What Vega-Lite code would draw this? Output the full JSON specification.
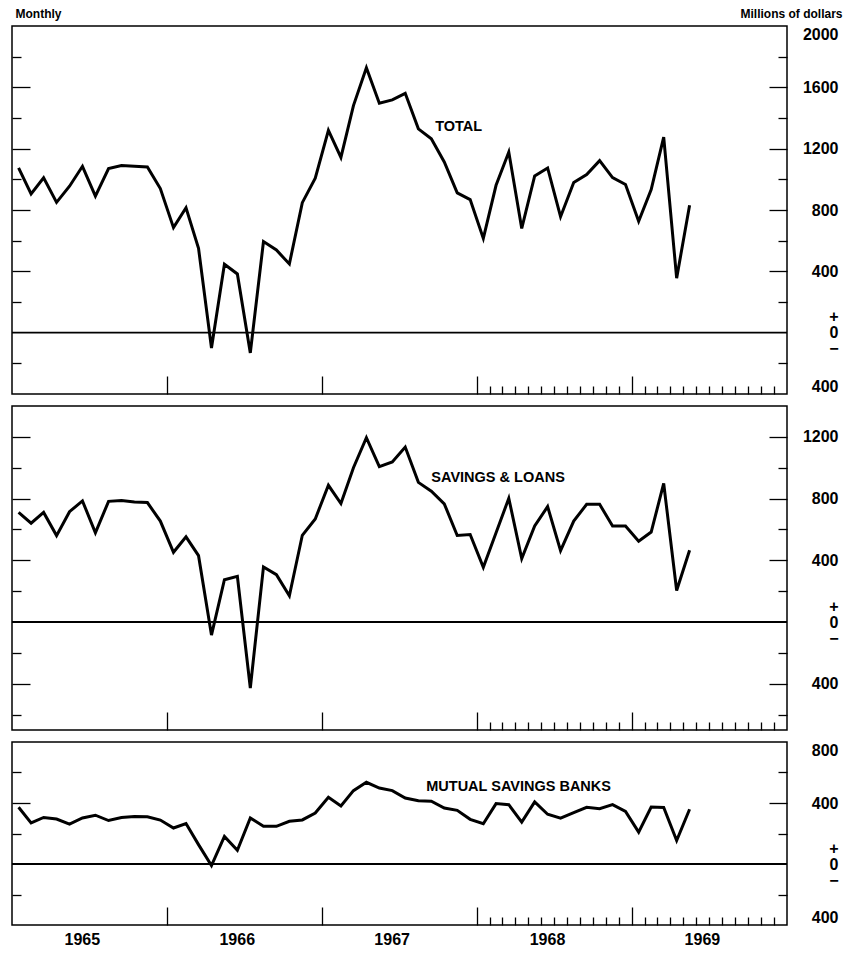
{
  "$schema": "https://vega.github.io/schema/vega-lite/v6.json",
  "background": "white",
  "padding": {"left": 10, "top": 6, "right": 2, "bottom": 4},
  "autosize": {"type": "pad"},
  "config": {
    "view": {"stroke": "black", "strokeWidth": 1.5},
    "font": "Liberation Sans",
    "axis": {"grid": false, "domain": false, "tickColor": "black", "tickWidth": 1.3, "labelColor": "black", "titleColor": "black"}
  },
  "datasets": {
    "flows": [
      {"date": "1965-01", "total": 1075, "sl": 710, "msb": 372},
      {"date": "1965-02", "total": 905, "sl": 640, "msb": 270},
      {"date": "1965-03", "total": 1010, "sl": 710, "msb": 305},
      {"date": "1965-04", "total": 850, "sl": 560, "msb": 295},
      {"date": "1965-05", "total": 955, "sl": 715, "msb": 262},
      {"date": "1965-06", "total": 1085, "sl": 785, "msb": 302},
      {"date": "1965-07", "total": 890, "sl": 578, "msb": 320},
      {"date": "1965-08", "total": 1070, "sl": 782, "msb": 285},
      {"date": "1965-09", "total": 1090, "sl": 787, "msb": 305},
      {"date": "1965-10", "total": 1085, "sl": 778, "msb": 312},
      {"date": "1965-11", "total": 1080, "sl": 774, "msb": 310},
      {"date": "1965-12", "total": 940, "sl": 654, "msb": 288},
      {"date": "1966-01", "total": 685, "sl": 452, "msb": 236},
      {"date": "1966-02", "total": 815, "sl": 552, "msb": 265},
      {"date": "1966-03", "total": 550, "sl": 430, "msb": 127},
      {"date": "1966-04", "total": -100, "sl": -85, "msb": -10},
      {"date": "1966-05", "total": 446, "sl": 274, "msb": 181},
      {"date": "1966-06", "total": 383, "sl": 296, "msb": 90},
      {"date": "1966-07", "total": -132, "sl": -428, "msb": 302},
      {"date": "1966-08", "total": 594, "sl": 357, "msb": 247},
      {"date": "1966-09", "total": 539, "sl": 307, "msb": 247},
      {"date": "1966-10", "total": 448, "sl": 170, "msb": 280},
      {"date": "1966-11", "total": 848, "sl": 562, "msb": 289},
      {"date": "1966-12", "total": 1008, "sl": 668, "msb": 334},
      {"date": "1967-01", "total": 1320, "sl": 886, "msb": 437},
      {"date": "1967-02", "total": 1143, "sl": 768, "msb": 380},
      {"date": "1967-03", "total": 1481, "sl": 1000, "msb": 481},
      {"date": "1967-04", "total": 1728, "sl": 1195, "msb": 536},
      {"date": "1967-05", "total": 1496, "sl": 1007, "msb": 498},
      {"date": "1967-06", "total": 1518, "sl": 1037, "msb": 481},
      {"date": "1967-07", "total": 1561, "sl": 1134, "msb": 433},
      {"date": "1967-08", "total": 1329, "sl": 905, "msb": 415},
      {"date": "1967-09", "total": 1264, "sl": 848, "msb": 412},
      {"date": "1967-10", "total": 1113, "sl": 766, "msb": 367},
      {"date": "1967-11", "total": 912, "sl": 561, "msb": 352},
      {"date": "1967-12", "total": 868, "sl": 567, "msb": 293},
      {"date": "1968-01", "total": 615, "sl": 354, "msb": 264},
      {"date": "1968-02", "total": 961, "sl": 578, "msb": 396},
      {"date": "1968-03", "total": 1178, "sl": 802, "msb": 389},
      {"date": "1968-04", "total": 680, "sl": 411, "msb": 275},
      {"date": "1968-05", "total": 1022, "sl": 622, "msb": 407},
      {"date": "1968-06", "total": 1074, "sl": 748, "msb": 326},
      {"date": "1968-07", "total": 756, "sl": 463, "msb": 301},
      {"date": "1968-08", "total": 979, "sl": 654, "msb": 337},
      {"date": "1968-09", "total": 1031, "sl": 763, "msb": 372},
      {"date": "1968-10", "total": 1122, "sl": 763, "msb": 363},
      {"date": "1968-11", "total": 1011, "sl": 622, "msb": 389},
      {"date": "1968-12", "total": 966, "sl": 622, "msb": 345},
      {"date": "1969-01", "total": 727, "sl": 524, "msb": 209},
      {"date": "1969-02", "total": 933, "sl": 583, "msb": 374},
      {"date": "1969-03", "total": 1275, "sl": 898, "msb": 370},
      {"date": "1969-04", "total": 355, "sl": 204, "msb": 154},
      {"date": "1969-05", "total": 831, "sl": 465, "msb": 359}
    ]
  },
  "spacing": 12,
  "bounds": "flush",
  "vconcat": [
    {
      "width": 775,
      "height": 368,
      "data": {"name": "flows"},
      "resolve": {"axis": {"x": "independent", "y": "independent"}},
      "layer": [
        {
          "mark": {"type": "line", "stroke": "black", "strokeWidth": 3},
          "encoding": {
            "x": {
              "field": "date", "timeUnit": "utcyearmonth", "type": "temporal", "bandPosition": 0.5,
              "scale": {"type": "utc", "domain": [{"year": 1965, "month": 1, "date": 1, "utc": true}, {"year": 1970, "month": 1, "date": 1, "utc": true}]},
              "axis": {
                "orient": "bottom", "labels": false, "title": null,
                "values": [
                  {"year": 1966, "month": 1, "date": 1, "utc": true}, {"year": 1967, "month": 1, "date": 1, "utc": true},
                  {"year": 1968, "month": 1, "date": 1, "utc": true}, {"year": 1968, "month": 2, "date": 1, "utc": true}, {"year": 1968, "month": 3, "date": 1, "utc": true}, {"year": 1968, "month": 4, "date": 1, "utc": true}, {"year": 1968, "month": 5, "date": 1, "utc": true}, {"year": 1968, "month": 6, "date": 1, "utc": true}, {"year": 1968, "month": 7, "date": 1, "utc": true}, {"year": 1968, "month": 8, "date": 1, "utc": true}, {"year": 1968, "month": 9, "date": 1, "utc": true}, {"year": 1968, "month": 10, "date": 1, "utc": true}, {"year": 1968, "month": 11, "date": 1, "utc": true}, {"year": 1968, "month": 12, "date": 1, "utc": true},
                  {"year": 1969, "month": 1, "date": 1, "utc": true}, {"year": 1969, "month": 2, "date": 1, "utc": true}, {"year": 1969, "month": 3, "date": 1, "utc": true}, {"year": 1969, "month": 4, "date": 1, "utc": true}, {"year": 1969, "month": 5, "date": 1, "utc": true}, {"year": 1969, "month": 6, "date": 1, "utc": true}, {"year": 1969, "month": 7, "date": 1, "utc": true}, {"year": 1969, "month": 8, "date": 1, "utc": true}, {"year": 1969, "month": 9, "date": 1, "utc": true}, {"year": 1969, "month": 10, "date": 1, "utc": true}, {"year": 1969, "month": 11, "date": 1, "utc": true}, {"year": 1969, "month": 12, "date": 1, "utc": true}
                ],
                "tickSize": {"condition": {"test": "utcmonth(datum.value) === 0", "value": -18}, "value": -8}
              }
            },
            "y": {
              "field": "total", "type": "quantitative",
              "scale": {"domain": [-400, 2000], "nice": false, "zero": false},
              "axis": {
                "orient": "left", "labels": false,
                "values": [-200, 200, 400, 600, 800, 1000, 1200, 1400, 1600, 1800],
                "tickSize": {"condition": {"test": "datum.value % 400 === 0", "value": -18}, "value": -9},
                "title": "Monthly", "titleAngle": 0, "titleAlign": "left", "titleBaseline": "alphabetic",
                "titleX": 3, "titleY": -9, "titleFontSize": 12, "titleFontWeight": "bold"
              }
            }
          }
        },
        {
          "data": {"values": [{}]},
          "mark": {"type": "rule", "stroke": "black", "strokeWidth": 1.8},
          "encoding": {
            "y": {
              "datum": 0, "type": "quantitative",
              "axis": {
                "orient": "right", "labels": false,
                "values": [-200, 200, 400, 600, 800, 1000, 1200, 1400, 1600, 1800],
                "tickSize": {"condition": {"test": "datum.value % 400 === 0", "value": -18}, "value": -9},
                "title": "Millions of dollars", "titleAngle": 0, "titleAlign": "right", "titleBaseline": "alphabetic",
                "titleX": 55, "titleY": -9, "titleFontSize": 12, "titleFontWeight": "bold"
              }
            }
          }
        },
        {
          "data": {"values": [{}]},
          "mark": {"type": "text", "align": "left", "baseline": "middle", "font": "Liberation Sans", "fontWeight": "bold", "fontSize": 14.5, "color": "black"},
          "encoding": {
            "x": {"datum": {"year": 1967, "month": 9, "date": 25, "utc": true}, "type": "temporal", "scale": {"type": "utc"}, "axis": null},
            "y": {
              "datum": 1341, "type": "quantitative",
              "axis": {
                "orient": "right", "ticks": false, "title": null,
                "values": [-400, 0, 400, 800, 1200, 1600, 2000],
                "labelAlign": "right", "labelPadding": 51, "labelFontSize": 16, "labelFontWeight": "bold",
                "labelFlush": true, "labelOverlap": false, "labelLineHeight": 16,
                "labelOffset": {"condition": {"test": "datum.value === 0", "value": -16}, "value": 0},
                "labelExpr": "datum.value === 0 ? ['+', '0', '\u2212'] : '' + abs(datum.value)"
              }
            },
            "text": {"value": "TOTAL"}
          }
        }
      ]
    },
    {
      "width": 775,
      "height": 324,
      "data": {"name": "flows"},
      "resolve": {"axis": {"x": "independent", "y": "independent"}},
      "layer": [
        {
          "mark": {"type": "line", "stroke": "black", "strokeWidth": 3},
          "encoding": {
            "x": {
              "field": "date", "timeUnit": "utcyearmonth", "type": "temporal", "bandPosition": 0.5,
              "scale": {"type": "utc", "domain": [{"year": 1965, "month": 1, "date": 1, "utc": true}, {"year": 1970, "month": 1, "date": 1, "utc": true}]},
              "axis": {
                "orient": "bottom", "labels": false, "title": null,
                "values": [
                  {"year": 1966, "month": 1, "date": 1, "utc": true}, {"year": 1967, "month": 1, "date": 1, "utc": true},
                  {"year": 1968, "month": 1, "date": 1, "utc": true}, {"year": 1968, "month": 2, "date": 1, "utc": true}, {"year": 1968, "month": 3, "date": 1, "utc": true}, {"year": 1968, "month": 4, "date": 1, "utc": true}, {"year": 1968, "month": 5, "date": 1, "utc": true}, {"year": 1968, "month": 6, "date": 1, "utc": true}, {"year": 1968, "month": 7, "date": 1, "utc": true}, {"year": 1968, "month": 8, "date": 1, "utc": true}, {"year": 1968, "month": 9, "date": 1, "utc": true}, {"year": 1968, "month": 10, "date": 1, "utc": true}, {"year": 1968, "month": 11, "date": 1, "utc": true}, {"year": 1968, "month": 12, "date": 1, "utc": true},
                  {"year": 1969, "month": 1, "date": 1, "utc": true}, {"year": 1969, "month": 2, "date": 1, "utc": true}, {"year": 1969, "month": 3, "date": 1, "utc": true}, {"year": 1969, "month": 4, "date": 1, "utc": true}, {"year": 1969, "month": 5, "date": 1, "utc": true}, {"year": 1969, "month": 6, "date": 1, "utc": true}, {"year": 1969, "month": 7, "date": 1, "utc": true}, {"year": 1969, "month": 8, "date": 1, "utc": true}, {"year": 1969, "month": 9, "date": 1, "utc": true}, {"year": 1969, "month": 10, "date": 1, "utc": true}, {"year": 1969, "month": 11, "date": 1, "utc": true}, {"year": 1969, "month": 12, "date": 1, "utc": true}
                ],
                "tickSize": {"condition": {"test": "utcmonth(datum.value) === 0", "value": -18}, "value": -8}
              }
            },
            "y": {
              "field": "sl", "type": "quantitative",
              "scale": {"domain": [-700, 1400], "nice": false, "zero": false},
              "axis": {
                "orient": "left", "labels": false, "title": null,
                "values": [-600, -400, -200, 200, 400, 600, 800, 1000, 1200],
                "tickSize": {"condition": {"test": "datum.value % 400 === 0", "value": -18}, "value": -9}
              }
            }
          }
        },
        {
          "data": {"values": [{}]},
          "mark": {"type": "rule", "stroke": "black", "strokeWidth": 1.8},
          "encoding": {
            "y": {
              "datum": 0, "type": "quantitative",
              "axis": {
                "orient": "right", "labels": false, "title": null,
                "values": [-600, -400, -200, 200, 400, 600, 800, 1000, 1200],
                "tickSize": {"condition": {"test": "datum.value % 400 === 0", "value": -18}, "value": -9}
              }
            }
          }
        },
        {
          "data": {"values": [{}]},
          "mark": {"type": "text", "align": "left", "baseline": "middle", "font": "Liberation Sans", "fontWeight": "bold", "fontSize": 14.5, "color": "black"},
          "encoding": {
            "x": {"datum": {"year": 1967, "month": 9, "date": 16, "utc": true}, "type": "temporal", "scale": {"type": "utc"}, "axis": null},
            "y": {
              "datum": 933, "type": "quantitative",
              "axis": {
                "orient": "right", "ticks": false, "title": null,
                "values": [-400, 0, 400, 800, 1200],
                "labelAlign": "right", "labelPadding": 51, "labelFontSize": 16, "labelFontWeight": "bold",
                "labelFlush": false, "labelOverlap": false, "labelLineHeight": 16,
                "labelOffset": {"condition": {"test": "datum.value === 0", "value": -16}, "value": 0},
                "labelExpr": "datum.value === 0 ? ['+', '0', '\u2212'] : '' + abs(datum.value)"
              }
            },
            "text": {"value": "SAVINGS & LOANS"}
          }
        }
      ]
    },
    {
      "width": 775,
      "height": 183,
      "data": {"name": "flows"},
      "resolve": {"axis": {"x": "independent", "y": "independent"}},
      "layer": [
        {
          "mark": {"type": "line", "stroke": "black", "strokeWidth": 3},
          "encoding": {
            "x": {
              "field": "date", "timeUnit": "utcyearmonth", "type": "temporal", "bandPosition": 0.5,
              "scale": {"type": "utc", "domain": [{"year": 1965, "month": 1, "date": 1, "utc": true}, {"year": 1970, "month": 1, "date": 1, "utc": true}]},
              "axis": {
                "orient": "bottom", "labels": false, "title": null,
                "values": [
                  {"year": 1966, "month": 1, "date": 1, "utc": true}, {"year": 1967, "month": 1, "date": 1, "utc": true},
                  {"year": 1968, "month": 1, "date": 1, "utc": true}, {"year": 1968, "month": 2, "date": 1, "utc": true}, {"year": 1968, "month": 3, "date": 1, "utc": true}, {"year": 1968, "month": 4, "date": 1, "utc": true}, {"year": 1968, "month": 5, "date": 1, "utc": true}, {"year": 1968, "month": 6, "date": 1, "utc": true}, {"year": 1968, "month": 7, "date": 1, "utc": true}, {"year": 1968, "month": 8, "date": 1, "utc": true}, {"year": 1968, "month": 9, "date": 1, "utc": true}, {"year": 1968, "month": 10, "date": 1, "utc": true}, {"year": 1968, "month": 11, "date": 1, "utc": true}, {"year": 1968, "month": 12, "date": 1, "utc": true},
                  {"year": 1969, "month": 1, "date": 1, "utc": true}, {"year": 1969, "month": 2, "date": 1, "utc": true}, {"year": 1969, "month": 3, "date": 1, "utc": true}, {"year": 1969, "month": 4, "date": 1, "utc": true}, {"year": 1969, "month": 5, "date": 1, "utc": true}, {"year": 1969, "month": 6, "date": 1, "utc": true}, {"year": 1969, "month": 7, "date": 1, "utc": true}, {"year": 1969, "month": 8, "date": 1, "utc": true}, {"year": 1969, "month": 9, "date": 1, "utc": true}, {"year": 1969, "month": 10, "date": 1, "utc": true}, {"year": 1969, "month": 11, "date": 1, "utc": true}, {"year": 1969, "month": 12, "date": 1, "utc": true}
                ],
                "tickSize": {"condition": {"test": "utcmonth(datum.value) === 0", "value": -18}, "value": -8}
              }
            },
            "y": {
              "field": "msb", "type": "quantitative",
              "scale": {"domain": [-400, 800], "nice": false, "zero": false},
              "axis": {
                "orient": "left", "labels": false, "title": null,
                "values": [-200, 200, 400, 600],
                "tickSize": {"condition": {"test": "datum.value % 400 === 0", "value": -18}, "value": -9}
              }
            }
          }
        },
        {
          "data": {"values": [{}]},
          "mark": {"type": "rule", "stroke": "black", "strokeWidth": 1.8},
          "encoding": {
            "y": {
              "datum": 0, "type": "quantitative",
              "axis": {
                "orient": "right", "labels": false, "title": null,
                "values": [-200, 200, 400, 600],
                "tickSize": {"condition": {"test": "datum.value % 400 === 0", "value": -18}, "value": -9}
              }
            }
          }
        },
        {
          "data": {"values": [{}]},
          "mark": {"type": "text", "align": "left", "baseline": "middle", "font": "Liberation Sans", "fontWeight": "bold", "fontSize": 14.5, "color": "black"},
          "encoding": {
            "x": {
              "datum": {"year": 1967, "month": 9, "date": 4, "utc": true}, "type": "temporal", "scale": {"type": "utc"},
              "axis": {
                "orient": "bottom", "ticks": false, "title": null,
                "values": [{"year": 1965, "month": 7, "date": 1, "utc": true}, {"year": 1966, "month": 7, "date": 1, "utc": true}, {"year": 1967, "month": 7, "date": 1, "utc": true}, {"year": 1968, "month": 7, "date": 1, "utc": true}, {"year": 1969, "month": 7, "date": 1, "utc": true}],
                "labelExpr": "'' + utcyear(datum.value)",
                "labelPadding": 6, "labelOffset": -7, "labelFontSize": 16, "labelFontWeight": "bold",
                "labelFlush": false, "labelOverlap": false
              }
            },
            "y": {
              "datum": 505, "type": "quantitative",
              "axis": {
                "orient": "right", "ticks": false, "title": null,
                "values": [-400, 0, 400, 800],
                "labelAlign": "right", "labelPadding": 51, "labelFontSize": 16, "labelFontWeight": "bold",
                "labelFlush": true, "labelOverlap": false, "labelLineHeight": 16,
                "labelOffset": {"condition": {"test": "datum.value === 0", "value": -16}, "value": 0},
                "labelExpr": "datum.value === 0 ? ['+', '0', '\u2212'] : '' + abs(datum.value)"
              }
            },
            "text": {"value": "MUTUAL SAVINGS BANKS"}
          }
        }
      ]
    }
  ]
}
